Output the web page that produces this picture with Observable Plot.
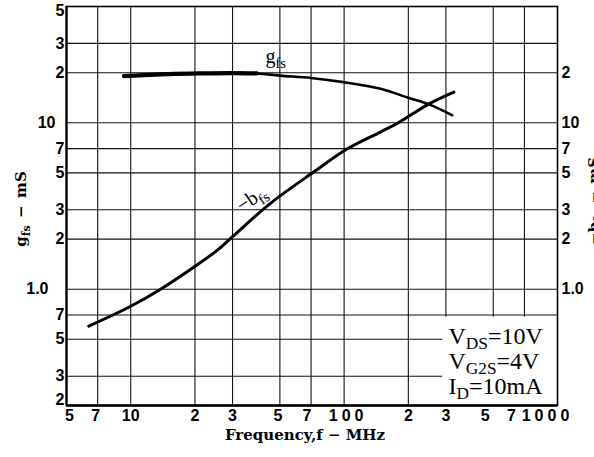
<!DOCTYPE html>
<html><head><meta charset="utf-8">
<script src="https://cdn.jsdelivr.net/npm/d3@7"></script>
<script src="https://cdn.jsdelivr.net/npm/@observablehq/plot@0.6"></script>
<style>
html,body{margin:0;padding:0;background:#fff;overflow:hidden;}
</style>
</head><body><div id="chart"></div>
<script>
// ---- data ----
const xTicks = [5, 7, 10, 20, 30, 50, 70, 100, 200, 300, 500, 700, 1000];
const xTickLabels = ["5", "7", "10", "2", "3", "5", "7", "100", "2", "3", "5", "7", "1000"];
const xGrid = [7, 10, 20, 30, 50, 70, 100, 200, 300, 500, 700];

const yLeftTicks = [50, 30, 20, 10, 7, 5, 3, 2, 1, 0.7, 0.5, 0.3, 0.2];
const yLeftLabels = ["5", "3", "2", "10", "7", "5", "3", "2", "1.0", "7", "5", "3", "2"];
const yRightTicks = [20, 10, 7, 5, 3, 2, 1];
const yRightLabels = ["2", "10", "7", "5", "3", "2", "1.0"];
const yGrid = [30, 20, 10, 7, 5, 3, 2, 1, 0.7, 0.5, 0.3];

// g_fs (mS) vs frequency (MHz)
const gfsFreq  = [9.3, 15, 21, 30, 39, 50, 70, 101, 148, 198, 250, 321];
const gfsValue = [19.1, 19.6, 19.8, 19.9, 19.8, 19.2, 18.6, 17.5, 16.0, 14.2, 12.9, 11.1];
// -b_fs (mS) vs frequency (MHz)
const bfsFreq  = [6.36, 10, 13.8, 19.8, 25.4, 29.9, 45, 72, 104, 148, 177, 250, 327];
const bfsValue = [0.60, 0.79, 1.0, 1.36, 1.71, 2.06, 3.27, 5.06, 7.0, 8.8, 9.9, 13.0, 15.3];

const conditions = ["V_{DS}=10V", "V_{G2S}=4V", "I_{D}=10mA"];
const xTitle = "Frequency,f − MHz";
const yTitle = "g_{fs}\u2002−\u2002mS";
const yTitleRight = "−b_{fs}\u2002−\u2002mS";
const gfsLabel = "g_{fs}";
const bfsLabel = "−b_{fs}";

// ---- tables built from the arrays ----
const gfs = gfsFreq.map((f, i) => ({f, v: gfsValue[i]}));
const bfs = bfsFreq.map((f, i) => ({f, v: bfsValue[i]}));
const xt = xTicks.map((v, i) => ({v, label: xTickLabels[i]}));
const yl = yLeftTicks.map((v, i) => ({v, label: yLeftLabels[i]}));
const yr = yRightTicks.map((v, i) => ({v, label: yRightLabels[i]}));

const tickFont = {fontFamily: "'Liberation Sans', Arial, sans-serif", fontWeight: "bold", fontSize: 16, fill: "#000"};
const serif = "'Liberation Serif', 'Times New Roman', serif";
const titleFont = {fontFamily: "'DejaVu Serif', serif", fontWeight: "bold", fontSize: 15, fill: "#000"};

// bottom tick labels, nudged in small groups like the printed original
const xLabel = (set, dx) => Plot.text(xt, {filter: d => set.includes(d.v), x: "v", text: "label",
  frameAnchor: "bottom", textAnchor: "middle", lineAnchor: "top", dy: 4, dx, ...tickFont});

const chart = Plot.plot({
  width: 594,
  height: 457,
  marginLeft: 66,
  marginRight: 37,
  marginTop: 6,
  marginBottom: 52,
  x: {type: "log", domain: [5, 1000], axis: null},
  y: {type: "log", domain: [0.2, 50], axis: null},
  style: {background: "#fff", color: "#000"},
  marks: [
    Plot.ruleX(xGrid, {stroke: "#111", strokeWidth: 1.1}),
    Plot.ruleY(yGrid, {stroke: "#111", strokeWidth: 1.1}),
    // white box behind operating conditions
    Plot.rect([0], {x1: 290, x2: 1000, y1: 0.2, y2: 0.68, fill: "#fff"}),
    Plot.frame({stroke: "#000", strokeWidth: 1.6}),
    Plot.ruleX([5], {stroke: "#000", strokeWidth: 2.2}),
    Plot.ruleY([0.2], {stroke: "#000", strokeWidth: 2.6}),
    // curves
    Plot.line(bfs, {x: "f", y: "v", curve: "catmull-rom", stroke: "#000", strokeWidth: 3}),
    Plot.line(gfs, {x: "f", y: "v", curve: "catmull-rom", stroke: "#000", strokeWidth: 2.6}),
    Plot.line(gfs, {filter: d => d.f <= 39, x: "f", y: "v", curve: "catmull-rom", stroke: "#000", strokeWidth: 4.2}),
    // curve labels
    Plot.text([gfsLabel], {x: 42.8, y: 23, text: d => d, textAnchor: "start", lineAnchor: "bottom",
      fontFamily: serif, fontSize: 20, fill: "#000"}),
    Plot.text([bfsLabel], {x: 36.8, y: 3.5, text: d => d, rotate: -34, textAnchor: "middle",
      fontFamily: serif, fontSize: 20, fill: "#000"}),
    // bottom tick labels
    xLabel([10, 20, 30, 200, 300], 0),
    xLabel([7, 50], -2),
    xLabel([70], -4),
    xLabel([5], 3),
    xLabel([100], 4),
    xLabel([500], -8),
    xLabel([700], -13),
    xLabel([1000], -10),
    // left tick labels
    Plot.text(yl, {filter: d => d.label.length === 1 && d.v !== 50 && d.v !== 0.2, y: "v", text: "label", frameAnchor: "left", textAnchor: "end", dx: -2, ...tickFont}),
    Plot.text(yl, {filter: d => d.v === 50, y: "v", text: "label", frameAnchor: "left", textAnchor: "end", dx: -2, dy: 4, ...tickFont}),
    Plot.text(yl, {filter: d => d.v === 0.2, y: "v", text: "label", frameAnchor: "left", textAnchor: "end", dx: -2, dy: -6, ...tickFont}),
    Plot.text(yl, {filter: d => d.label === "10", y: "v", text: "label", frameAnchor: "left", textAnchor: "end", dx: -11, ...tickFont}),
    Plot.text(yl, {filter: d => d.label === "1.0", y: "v", text: "label", frameAnchor: "left", textAnchor: "end", dx: -18, ...tickFont}),
    // right tick labels
    Plot.text(yr, {y: "v", text: "label", frameAnchor: "right", textAnchor: "start", dx: 4, ...tickFont}),
    // axis titles
    Plot.text([xTitle], {text: d => d, frameAnchor: "bottom", textAnchor: "middle", lineAnchor: "bottom", dy: 34, dx: -7, ...titleFont}),
    Plot.text([yTitle], {text: d => d, frameAnchor: "left", textAnchor: "middle", rotate: -90, dx: -45, dy: 3, ...titleFont}),
    Plot.text([yTitleRight], {text: d => d, frameAnchor: "right", textAnchor: "middle", rotate: -90, lineAnchor: "bottom", dx: 41, dy: -5, ...titleFont}),
    // operating conditions
    Plot.text([conditions.join("\n")], {text: d => d, frameAnchor: "bottom-right", textAnchor: "start", lineAnchor: "bottom",
      dx: -109, dy: -12, lineHeight: 1.04, fontFamily: serif, fontSize: 24, fill: "#000"})
  ]
});

// subscripts: "_{...}" -> lowered, smaller tspan
function applySubs(root) {
  const ns = "http://www.w3.org/2000/svg";
  root.querySelectorAll("text, tspan").forEach(el => {
    if (el.children.length) return;
    const s = el.textContent;
    if (!s.includes("_{")) return;
    el.textContent = "";
    const re = /_\{([^}]*)\}/g;
    let last = 0, m, shifted = false;
    const add = (txt, sub) => {
      const t = document.createElementNS(ns, "tspan");
      t.textContent = txt;
      if (sub) { t.setAttribute("font-size", "0.72em"); t.setAttribute("dy", "0.34em"); shifted = true; }
      else if (shifted) { t.setAttribute("dy", "-0.245em"); shifted = false; }
      el.appendChild(t);
    };
    while ((m = re.exec(s))) {
      if (m.index > last) add(s.slice(last, m.index), false);
      add(m[1], true);
      last = re.lastIndex;
    }
    if (last < s.length) add(s.slice(last), false);
  });
  root.querySelectorAll("text").forEach(el => {
    if (el.textContent === "100" || el.textContent === "1000") el.setAttribute("letter-spacing", "4");
  });
}
applySubs(chart);
document.getElementById("chart").appendChild(chart);
</script>
</body></html>
